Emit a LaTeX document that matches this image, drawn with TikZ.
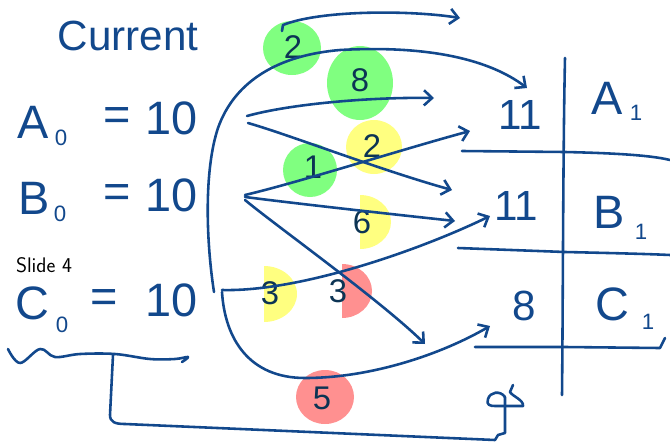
\documentclass[tikz,border=0pt]{standalone}
\usepackage{fontspec}
\setmainfont{Liberation Sans}
\usetikzlibrary{arrows.meta}
\definecolor{ink}{RGB}{18,72,140}
\definecolor{darkink}{RGB}{12,52,84}
\definecolor{chipgreen}{RGB}{128,255,128}
\definecolor{chipyellow}{RGB}{255,255,128}
\definecolor{chipred}{RGB}{255,144,144}

\begin{document}
\begin{tikzpicture}[x=0.03cm,y=-0.03cm,
    pen/.style={ink,line width=2.2pt,line cap=round,line join=round},
    flow/.style={pen,-{Straight Barb[length=7pt,width=13pt,line width=2.2pt]}},
    hand/.style={ink,inner sep=0pt,font=\fontsize{40}{40}\selectfont},
    sub/.style={ink,inner sep=0pt,font=\fontsize{19}{19}\selectfont},
    tally/.style={darkink,inner sep=0pt,font=\fontsize{28}{28}\selectfont}]
  \useasboundingbox (0,0) rectangle (670,443);
  % discs behind everything
  \coordinate (k2a) at (292,48);
  \coordinate (k8) at (360,83);
  \coordinate (k2b) at (374,147);
  \coordinate (k1) at (310,170);
  \coordinate (k6) at (360,222);
  \coordinate (k3a) at (264,294);
  \coordinate (k3b) at (342,291);
  \coordinate (k5) at (325,397);
  \fill[chipgreen] (k2a) circle[x radius=29,y radius=27];
  \fill[chipgreen] (k8) circle[x radius=33,y radius=37];
  \fill[chipyellow] (k2b) circle[x radius=28,y radius=27];
  \fill[chipgreen] (k1) circle[x radius=27,y radius=27];
  \fill[chipred] (k5) circle[x radius=29,y radius=27];
  % half discs, right side only
  \fill[chipyellow] (k6) ++(0,27) arc[start angle=90,end angle=-90,x radius=31,y radius=27] -- cycle;
  \fill[chipyellow] (k3a) ++(0,28) arc[start angle=90,end angle=-90,x radius=33,y radius=28] -- cycle;
  \fill[chipred] (k3b) ++(0,27) arc[start angle=90,end angle=-90,x radius=30,y radius=27] -- cycle;

  % left column
  \node[hand,font=\fontsize{36}{36}\selectfont] (current) at (128,36) {Current};
  \node[hand] (a0) at (33,122) {A};
  \node[sub] (a0s) at (61,138) {0};
  \node[hand] (a0eq) at (117,119) {=};
  \node[hand] (a0v) at (172,118) {10};
  \node[hand] (b0) at (34,198) {B};
  \node[sub] (b0s) at (60,214) {0};
  \node[hand] (b0eq) at (117,196) {=};
  \node[hand] (b0v) at (172,195) {10};
  \node[black,inner sep=0pt,font=\sffamily\fontsize{18}{18}\selectfont] (slide) at (44,265) {Slide 4};
  \node[hand] (c0) at (32,303) {C};
  \node[sub] (c0s) at (62,325) {0};
  \node[hand] (c0eq) at (104,301) {=};
  \node[hand] (c0v) at (172,300) {10};

  % right column
  \node[hand,font=\fontsize{36}{36}\selectfont] (a1v) at (520,115) {11};
  \node[hand,font=\fontsize{36}{36}\selectfont] (b1v) at (516,206) {11};
  \node[hand,font=\fontsize{36}{36}\selectfont] (c1v) at (524,306) {8};
  \node[hand] (a1) at (607,98) {A};
  \node[sub] (a1s) at (636,113) {1};
  \node[hand] (b1) at (609,212) {B};
  \node[sub] (b1s) at (641,232) {1};
  \node[hand] (c1) at (612,304) {C};
  \node[sub] (c1s) at (648,322) {1};

  % amounts on the discs
  \node[tally] (t2a) at (293,47) {2};
  \node[tally] (t8) at (360,80) {8};
  \node[tally] (t2b) at (372,146) {2};
  \node[tally] (t1) at (313,167) {1};
  \node[tally] (t6) at (362,222) {6};
  \node[tally] (t3a) at (270,293) {3};
  \node[tally] (t3b) at (338,291) {3};
  \node[tally] (t5) at (322,398) {5};

  % ends of the flows
  \coordinate (aA) at (247,116);
  \coordinate (aB) at (248,123);
  \coordinate (bA) at (245,195);
  \coordinate (bB) at (245,197);
  \coordinate (bC) at (245,200);
  \coordinate (cA) at (214,292);
  \coordinate (cB) at (222,290);
  \coordinate (cC) at (222,292);
  \coordinate (toA) at (527,88);
  \coordinate (toA2) at (434,98);
  \coordinate (toA3) at (470,131);
  \coordinate (toB) at (452,190);
  \coordinate (toB2) at (455,221);
  \coordinate (toB3) at (490,216);
  \coordinate (toC) at (425,344);
  \coordinate (toC2) at (490,326);
  \coordinate (topA) at (282,31);
  \coordinate (topB) at (460,18);

  % flows
  \draw[flow] (topA) -- ++(1,-6) .. controls (320,10) and (410,10) .. (topB);
  \draw[flow] (cA) .. controls (206,240) and (204,170) .. (218,128)
    .. controls (235,80) and (280,55) .. (340,50)
    .. controls (430,45) and (490,60) .. (toA);
  \draw[flow] (aA) .. controls (290,104) and (370,97) .. (toA2);
  \draw[flow] (aB) .. controls (290,135) and (380,170) .. (toB);
  \draw[flow] (bA) .. controls (300,182) and (400,150) .. (toA3);
  \draw[flow] (bB) .. controls (300,204) and (390,214) .. (toB2);
  \draw[flow] (bC) .. controls (275,225) and (380,300) .. (toC);
  \draw[flow] (cB) .. controls (300,292) and (420,250) .. (toB3);
  \draw[flow] (cC) .. controls (225,340) and (250,378) .. (305,378)
    .. controls (370,378) and (440,355) .. (toC2);

  % table on the right
  \draw[pen] (565,58) .. controls (563,150) and (563,300) .. (562,395);
  \draw[pen] (462,151) -- (565,152) .. controls (610,153) and (650,155) .. (670,160);
  \draw[pen] (458,248) -- (565,252) .. controls (610,253) and (650,254) .. (670,255);
  \draw[pen] (475,347) -- (565,347) -- (660,348) -- (665,338);

  % underline of C and the line round the bottom
  \draw[pen] plot[smooth,tension=0.6] coordinates {(8,349) (20,363) (40,349) (55,357) (80,354) (115,354) (150,359) (175,359) (188,357) (182,362)};
  \draw[pen] (113,355) -- (110,415) .. controls (110,422) and (115,424) .. (125,424)
    -- (495,440) -- (498,435) -- (505,433) -- (505,397);
  \draw[pen] (505,397) .. controls (500,390) and (490,392) .. (488,399)
    .. controls (486,405) and (490,406) .. (495,406) -- (523,406)
    .. controls (524,400) and (512,396) .. (510,392) -- (513,385);
\end{tikzpicture}
\end{document}
